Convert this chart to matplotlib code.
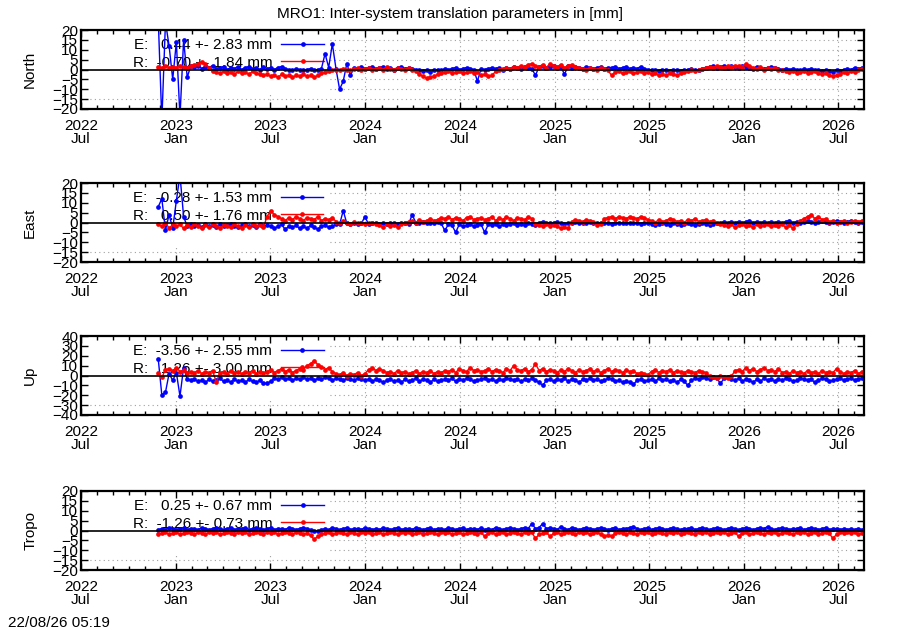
import numpy as np
import matplotlib
matplotlib.use("Agg")
import matplotlib.pyplot as plt
import matplotlib.dates as mdates
from matplotlib.patches import Rectangle

plt.rcParams['font.family'] = ['Liberation Sans', 'DejaVu Sans']
plt.rcParams['font.size'] = 11

# weekly samples, first one 2022-11-27
start = np.datetime64('2022-11-27')
n_pts = 195

north_e = [26, -26, 24, 12, -5, 14, -24, 15, -4, 2,
           1.5, 2, 0.5, 1.5, 1, 2, 0.5, 1, 1.5, 0,
           1, 0.5, 1.5, 0, 1, 1.5, 0.5, 1, 0, 1.5,
           0.5, 1, 0, 1, 1.5, 0.5, 0, -0.5, 0.5, 0,
           -0.5, 0, 0.5, -0.5, 0, 0.5, 8, 1, 13, 0.5,
           -10, -6, 3, -3, 1, 0.5, 1.5, 0.5, 1, 1.5,
           0.5, 1, 1.5, 0.5, 1, 0, 1, 1.5, 0.5, 1,
           0.5, 0, -0.5, -1, -0.5, -1.5, -0.5, 0, -0.5, 0.5,
           0, 0.5, 1, 0, 0.5, 1, 0.5, 0, -6, 0.5,
           0, 0.5, 1, 0.5, 1, 0, 1, 0.5, 1.5, 1,
           0.5, 1.5, 1, 0.5, -3, 1.5, 2, 1, 1.5, 2,
           1, 1.5, -2.5, 2, 1, 1.5, 1, 0.5, 1.5, 1,
           0.5, 1, 1.5, 0.5, 1, 1, 1.5, 0.5, 1, 1.5,
           0.5, 1, 0.5, 1.5, 0.5, 0, -0.5, 0, -1, -0.5,
           0, -1, -0.5, 0, -1, -0.5, 0, 0.5, -0.5, 0,
           0.5, 1, 1.5, 2, 1, 1.5, 2, 1, 2, 1.5,
           1, 2, 1.5, 1, 0.5, 1.5, 1, 0.5, 1, 1.5,
           1, 0.5, 0, 0.5, 0, 0.5, 0, -0.5, 0.5, 0,
           0.5, 0, -0.5, -1, -0.5, -1, -1.5, -0.5, -1, 0,
           0.5, 0, 1, 0.5, 1]
north_r = [1.5, 1, 2, 1, 1.5, 1, 2, 1.5, 1, 2,
           2.5, 3, 4, 3, 1, -1, -1.5, -2, -1, -2,
           -1.5, -2.5, -1, -2, -1.5, -2.5, -1, -2, -2.5, -3,
           -2.5, -3.5, -3, -4, -2.5, -3.5, -3, -4, -3, -3.5,
           -2.5, -3.5, -3, -4, -3, -2, -1.5, -1, -0.5, 0,
           -0.5, 0.5, 0, -0.5, 0.5, 1, 0, 0.5, 1, 0,
           0.5, 1, 0, 1.5, 0.5, 0, 1, 0.5, 0, 1,
           0, -1, -2.5, -3.5, -4.5, -4, -3.5, -2.5, -2, -1.5,
           -1, -2, -1.5, -1, -2, -1.5, -1, -2, -1.5, -3,
           -2.5, -3.5, -3, -1, 0, 0.5, 1, 0.5, 1.5, 1,
           2, 1.5, 2.5, 3, 2, 1.5, 2.5, 1, 3, 2,
           1.5, 2.5, 1, 2, 2.5, 1.5, 1, 0.5, 0, 1,
           0.5, 0, 1, 0.5, -0.5, -3, -1.5, -1, -2, -1.5,
           -1, -2, -1.5, -1, -2, -1.5, -2.5, -2, -3, -2.5,
           -3, -2, -2.5, -3, -2, -1.5, -1, -0.5, -1, 0,
           0.5, 1, 1.5, 1, 2, 1.5, 1, 2, 1.5, 2,
           2, 1.5, 3, 2, 1, 0.5, 1.5, 0, 1, 0.5,
           1, 0, -0.5, -1, -1.5, -1, -2, -1.5, -1, -2,
           -1.5, -1, -2, -2.5, -2, -3, -3.5, -3, -2.5, -1.5,
           -2, -1, -1.5, -0.5, 0.5]

east_e = [8, 12, -4, 4, -3, 11, 24, 3, -2, -1,
          -2, -1.5, -2.5, -1, -2, -1.5, -2.5, -1, -2, -1.5,
          -1, -2, -2.5, -1.5, -1, -2, -1.5, -2.5, -1, -2,
          -1.5, -2, -3, -2, -1, -3.5, -2, -2.5, -1.5, -3,
          -2, -3, -1.5, -2.5, -3.5, -2, -1.5, -2.5, -2, -1,
          -1, 6, -0.5, -1, 0, -1, -0.5, 3, -1, -0.5,
          0, -1, -0.5, -1, 0, -0.5, -1, 0, -0.5, -1,
          4, 0, -0.5, 0.5, 0, -0.5, 0, 0.5, -0.5, -4,
          -1, -1.5, -5, -1, -2, -1.5, -1, -2, -1.5, -1,
          -5, -1, -1.5, -1, -2, -1, -1.5, -1, -0.5, -1.5,
          -1, -1.5, -0.5, -1, -1.5, 0, 0.5, 0, -0.5, 0,
          0.5, -0.5, -1, -0.5, 0, 0.5, 0, -0.5, 0, 0.5,
          0, -0.5, 0, -0.5, 0, -1, -0.5, 0, -0.5, 0,
          -0.5, 0, -0.5, -1, 0, -0.5, -1, -1.5, -1, -0.5,
          -1, -1.5, -0.5, -1, -1.5, -1, -0.5, -1, -1.5, -1,
          -0.5, -1, -1.5, -1, -0.5, 0, 0.5, 0, 0.5, 0,
          0.5, 0, 0.5, 1, 0, 0.5, 0, 0.5, 0, 0.5,
          0, 0.5, 0, 0.5, 1, 0, 0.5, 0, 0.5, 1,
          0.5, 0, 0.5, 1, 0.5, 0, 0.5, 1, 0.5, 0,
          0.5, 1, 0.5, 0, 0.5]
east_r = [-1, -2, 0, -3, -1, -2, -1, -3, -1.5, -2.5,
          -1, -2, -3, -1.5, -2.5, -1, -2, -3, -1.5, -2,
          -2.5, -1, -2, -3, -1.5, -2.5, -1, -2, -1.5, -2.5,
          3, 6, 4, 3, 2, 1, 2.5, 1.5, 3, 2,
          1, 2.5, 2, 1.5, 3, 1, 2, 1.5, 2.5, 0.5,
          -0.5, 1, 0, -1, 0.5, -0.5, 0, -1, -0.5, 0,
          -1, -1.5, -2.5, -1, -2, -1.5, -2.5, -1, 0, 0.5,
          1, 0, 1.5, 0.5, 1, 2, 1, 1.5, 2.5, 2,
          3, 1.5, 2.5, 2, 1, 2.5, 3, 1.5, 2, 2.5,
          1.5, 2, 3, 1, 2.5, 1.5, 3, 2, 1, 2.5,
          2, 1.5, 3, 2, -1, -1.5, -2, -1, -2, -1.5,
          -2, -3, -2.5, -3, 0.5, 1.5, 1, 0.5, 1.5, 1,
          0.5, -1.5, -1, 2, 2.5, 3, 2, 3, 2.5, 2,
          3, 2.5, 2, 3, 2.5, 1.5, 1, 0, 1.5, 0.5,
          1, 2, 1.5, 0.5, 1, 0, 1.5, 1, 2, 0.5,
          1, 1.5, 0.5, 1, 0, -1, -1.5, -2, -1, -2.5,
          -1.5, -1, -2, -1.5, -2.5, -1, -2, -1.5, -1, -2,
          -1.5, -2, -1, -2.5, -1.5, -3, -1, 1, 2, 3,
          4, 2, 3, 1.5, 2, 0.5, 1, 0, 0.5, 1,
          0, 0.5, 1, 0.5, 1]

up_e = [17, -20, -17, 2, -5, 3, -21, 8, -4, -5,
        -4, -6, -5, -7, -4, -6, -5, -3, -6, -5,
        -7, -4, -6, -5, -7, -4, -6, -7, -5, -8,
        -8, -6, -3, -4, -2, -4, -3, -5, -3, -4,
        -2, -4, -3, -5, -3, -4, -2, -3, -5, -3,
        -4, -5, -3, -4, -5, -3, -4, -5, -4, -6,
        -4, -5, -7, -5, -4, -6, -5, -7, -4, -6,
        -5, -3, -6, -4, -5, -7, -4, -6, -5, -4,
        -5, -3, -6, -4, -5, -3, -4, -6, -5, -4,
        -3, -5, -4, -6, -4, -5, -3, -4, -5, -4,
        -6, -4, -5, -3, -5, -7, -10, -5, -4, -6,
        -4, -5, -3, -6, -4, -5, -7, -4, -5, -3,
        -5, -4, -6, -5, -3, -4, -6, -5, -7, -6,
        -7, -9, -5, -4, -6, -5, -4, -6, -3, -5,
        -4, -6, -5, -7, -4, -6, -10, -5, -3, -4,
        -2, -3, -4, -2, -3, -8, -3, -2, -4, -5,
        -3, -6, -4, -5, -7, -4, -6, -3, -5, -4,
        -6, -4, -5, -3, -4, -6, -5, -3, -4, -5,
        -4, -7, -5, -3, -4, -6, -5, -4, -3, -5,
        -4, -3, -5, -4, -3]
up_r = [3, -2, 6, 7, 5, 8, 4, 6, 3, 4,
        3, 5, 2, 4, 3, 5, -7, 3, 4, 2,
        5, 3, 4, 2, 4, 3, 5, 2, 4, 3,
        4, 6, 3, 5, 7, 4, 6, 3, 5, 7,
        6, 10, 12, 15, 11, 9, 6, 8, 4, 2,
        1, 3, 0, 2, 1, 3, 0, 2, 6, 8,
        5, 7, 5, 3, 4, 2, 5, 3, 4, 2,
        3, 5, 2, 4, 3, 5, 2, 4, 3, 5,
        4, 6, 3, 7, 5, 4, 8, 5, 6, 4,
        5, 7, 4, 6, 5, 3, 7, 5, 10, 6,
        5, 7, 4, 6, 12, 5, 7, 4, 6, 5,
        3, 6, 4, 7, 5, 3, 6, 4, 5, 7,
        4, 6, 3, 5, 7, 4, 6, 5, 3, 6,
        4, 5, 2, 3, 2, 1, 4, 6, 3, 5,
        4, 6, 3, 5, 4, 3, 5, 4, 3, 5,
        4, 3, -1, -2, -3, -1, -2, -3, -1, 5,
        6, 4, 8, 5, 7, 4, 6, 8, 5, 6,
        4, 7, 3, 4, 2, 5, 3, 4, 2, 5,
        3, 4, 2, 5, 3, 4, 3, 7, 4, 2,
        4, 3, 5, 2, 4]

tropo_e = [0.5, 1, 0.5, 1.5, 1, 0.5, 1, 1.5, 0.5, 1,
           1, 0.5, 1.5, 1, 0.5, 1, 1.5, 1, 0.5, 1,
           1.5, 0.5, 1, 1, 1.5, 0.5, 1, 1.5, 1, 0.5,
           1, 1.5, 0.5, 1, 1, 0.5, 1.5, 1, 0.5, 1,
           1.5, 1, 0.5, 0, -0.5, 0.5, 1, 0.5, 1.5, 1,
           0.5, 1, 1.5, 0.5, 1, 1, 0.5, 1.5, 1, 0.5,
           1, 0.5, 1.5, 1, 0.5, 1, 1.5, 0.5, 1, 1,
           0.5, 1.5, 1, 0.5, 1, 1.5, 0.5, 1, 1, 0.5,
           1.5, 1, 0.5, 1, 1.5, 0.5, 1, 1, 0.5, 1.5,
           0.5, 1, 0.5, 1.5, 1, 0.5, 1, 1.5, 1, 0.5,
           1, 1.5, 1, 3.5, 1, 1.5, 3.5, 1, 1.5, 1,
           0.5, 2, 1, 0.5, 1.5, 1, 0.5, 1, 1.5, 1,
           0.5, 1, 1.5, 1, 0.5, 1, 1.5, 0.5, 1, 1,
           1.5, 2, 1, 0.5, 1, 1.5, 0.5, 1, 1.5, 1,
           0.5, 1, 1.5, 1, 0.5, 1, 1, 1.5, 0.5, 1,
           1.5, 1, 0.5, 1, 1.5, 1, 0.5, 1, 1.5, 1,
           0.5, 1, 1.5, 1, 0.5, 1, 1.5, 1, 2, 1,
           0.5, 1, 1.5, 1, 0.5, 1, 1, 1.5, 0.5, 1,
           1.5, 1, 0.5, 1, 1.5, 0.5, 1, 1, 0.5, 1,
           0.5, 1, 0.5, 1, 0.5]
tropo_r = [-2, -1.5, -1, -2, -1.5, -1, -2, -1.5, -1, -1.5,
           -2, -1, -1.5, -2, -1, -1.5, -1, -2, -1.5, -1,
           -1.5, -2, -1, -1.5, -1, -2, -1.5, -1, -1.5, -2,
           -1, -1.5, -1, -2, -1.5, -1, -1.5, -2, -1, -1.5,
           -2, -1.5, -2.5, -4.5, -3, -2, -1.5, -1, -2, -1.5,
           -1, -1.5, -2, -1, -1.5, -2, -1, -1.5, -1, -2,
           -1.5, -1, -2, -1.5, -1, -1.5, -2, -1, -1.5, -1,
           -2, -1.5, -1, -2, -1.5, -1, -1.5, -2, -1, -1.5,
           -1, -2, -1.5, -1, -2, -1.5, -1, -1.5, -2, -1,
           -3, -1.5, -1, -2, -1.5, -1, -2, -1.5, -1, -1.5,
           -2, -1, -1.5, -1, -4, -2, -1.5, -1, -3, -1.5,
           -1, -2, -1.5, -1, -1.5, -2, -1, -1.5, -1, -2,
           -1.5, -1, -2, -3, -2.5, -3, -1.5, -1, -1.5, -2,
           -1, -1.5, -2, -1, -1.5, -1, -2, -1.5, -1, -1.5,
           -2, -1, -1.5, -1, -2, -1.5, -1, -1.5, -2, -1,
           -1.5, -1, -2, -1.5, -1, -1.5, -1, -2, -1.5, -1,
           -3, -1.5, -1, -2, -1.5, -1, -1.5, -2, -1, -1.5,
           -1, -2, -1.5, -1, -1.5, -2, -1, -1.5, -1, -2,
           -1.5, -1, -2, -1.5, -1, -1.5, -4, -2, -1, -1.5,
           -1, -1.5, -1, -2, -1.5]

panel_names = ['North', 'East', 'Up', 'Tropo']
e_series = [north_e, east_e, up_e, tropo_e]
r_series = [north_r, east_r, up_r, tropo_r]
e_labels = ['E:   0.44 +- 2.83 mm', 'E:  -0.28 +- 1.53 mm',
            'E:  -3.56 +- 2.55 mm', 'E:   0.25 +- 0.67 mm']
r_labels = ['R:  -0.70 +- 1.84 mm', 'R:   0.50 +- 1.76 mm',
            'R:   1.26 +- 3.00 mm', 'R:  -1.26 +- 0.73 mm']
y_limits = [20, 20, 40, 20]
y_steps = [5, 5, 10, 5]

dates = (start + np.arange(n_pts) * np.timedelta64(7, 'D')).astype('datetime64[D]').astype(object)
x_lo = np.datetime64('2022-07-01').astype(object)
x_hi = np.datetime64('2026-08-20').astype(object)

fig = plt.figure(figsize=(9, 6.3), dpi=100)
fig.text(0.5, 1 - 14 / 630, 'MRO1: Inter-system translation parameters in [mm]',
         ha='center', va='center', fontsize=11)
fig.text(8 / 900, 1 - 623 / 630, '22/08/26 05:19', ha='left', va='center', fontsize=11)

tops = [30, 183, 336, 491]
for k in range(4):
    ax = fig.add_axes([81 / 900, 1 - (tops[k] + 79) / 630, 783 / 900, 79 / 630])
    lim = y_limits[k]
    ax.set_ylim(-lim, lim)
    ax.set_xlim(x_lo, x_hi)
    ax.set_yticks(np.arange(-lim, lim + 1, y_steps[k]))
    ax.xaxis.set_major_locator(mdates.MonthLocator(bymonth=[1, 7]))
    ax.xaxis.set_minor_locator(mdates.MonthLocator())
    ax.xaxis.set_major_formatter(mdates.DateFormatter('%Y\n%b'))
    ax.tick_params(which='both', direction='in', top=True, right=True)
    ax.tick_params(which='major', length=5, width=1)
    ax.tick_params(which='minor', length=3, width=1)
    ax.tick_params(axis='x', pad=7)
    ax.tick_params(axis='y', pad=2)
    for lab in ax.get_xticklabels():
        lab.set_linespacing(0.95)
    for sp in ax.spines.values():
        sp.set_linewidth(1.6)

    # dotted grid, drawn by hand so the key box can hide it
    for yv in ax.get_yticks():
        ax.axhline(yv, color='#a0a0a0', lw=0.8, ls=(0, (1, 3)), zorder=0.5)
    for xv in ax.xaxis.get_majorticklocs():
        ax.axvline(xv, color='#a0a0a0', lw=0.8, ls=(0, (1, 3)), zorder=0.5)
    ax.add_patch(Rectangle((0, 0.19), 0.318, 0.81, transform=ax.transAxes,
                           facecolor='white', edgecolor='none', zorder=1))

    le, = ax.plot(dates, e_series[k], '-o', color='#0000ff', lw=1.0, ms=3.4,
                  mew=0, zorder=2, label=e_labels[k])
    lr, = ax.plot(dates, r_series[k], '-o', color='#ff0000', lw=1.0, ms=3.4,
                  mew=0, zorder=2.1, label=r_labels[k])
    ax.axhline(0, color='black', lw=1.2, zorder=2.3)

    leg = ax.legend(handles=[le, lr], loc='upper left', bbox_to_anchor=(0.066, 0.9),
                    markerfirst=False, frameon=False, borderpad=0, borderaxespad=0,
                    handlelength=2.8, handletextpad=0.6, labelspacing=0.25, fontsize=11)
    leg.set_zorder(1.5)

    ax.set_ylabel(panel_names[k], fontsize=11)
    ax.yaxis.set_label_coords(-0.056, 0.5)

fig.savefig('out.png', dpi=100)
